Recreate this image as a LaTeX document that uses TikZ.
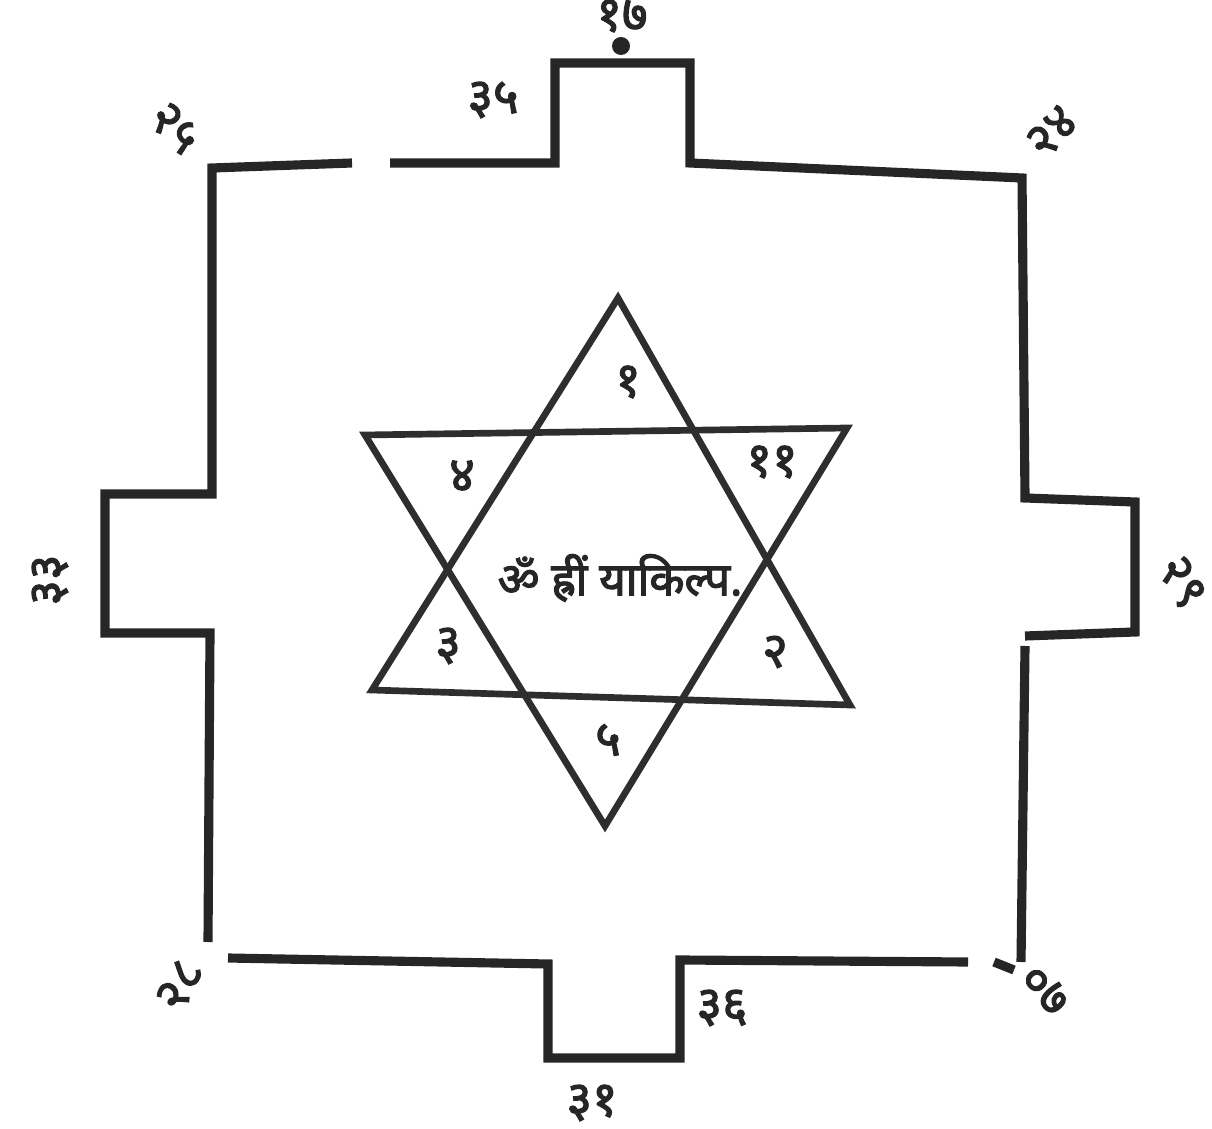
\documentclass[tikz,border=0pt]{standalone}
\usepackage{fontspec}
\newfontfamily\devfont[Script=Devanagari,AutoFakeBold=2.5]{Noto Sans}
\usetikzlibrary{calc}
\tikzset{
  ywall/.style={line width=2.6pt,draw=black!85,line join=miter},
  ystar/.style={line width=1.9pt,draw=black!82},
  ynum/.style={font=\devfont\bfseries\fontsize{14}{14}\selectfont,inner sep=0pt,text=black!85},
  ymantra/.style={font=\devfont\bfseries\fontsize{13}{15}\selectfont,inner sep=2pt,text=black!85}
}

\begin{document}
\begin{tikzpicture}[x=0.1mm,y=-0.1mm]
  \useasboundingbox (0,0) rectangle (1212,1129);
  % outer wall with four gates
  \draw[ywall] (352,163) -- (212,168) -- (212,494) -- (105,494) -- (105,633) -- (210,633) -- (208,942);
  \draw[ywall] (390,163) -- (555,163) -- (555,63) -- (690,63) -- (690,163) -- (1022,178) -- (1025,498) -- (1135,502) -- (1135,632) -- (1025,636);
  \draw[ywall] (1025,646) -- (1021,962);
  \draw[ywall] (228,958) -- (548,964) -- (548,1058) -- (680,1058) -- (680,960) -- (968,962);
  \draw[ywall] (994,962) -- (1014,970);
  \fill[black!85] (621,46) circle (9);
  % star
  \coordinate (ua) at (618,298);
  \coordinate (ul) at (372,690);
  \coordinate (ur) at (850,705);
  \coordinate (dl) at (365,435);
  \coordinate (dr) at (847,428);
  \coordinate (da) at (605,826);
  \draw[ystar] (ua) -- (ul) -- (ur) -- cycle;
  \draw[ystar] (dl) -- (dr) -- (da) -- cycle;
  \node[ymantra] (mantra) at (620,578) {ॐ ह्रीं याकिल्प.};
  \foreach \x/\y/\nm/\txt in {
     628/382/s1/१, 775/652/s2/२, 448/646/s3/३,
     462/476/s4/४, 608/740/s5/५, 772/462/s6/११}{
    \node[ynum] (\nm) at (\x,\y) {\txt};
  }
  % numbers round the wall
  \foreach \x/\y/\nm/\rot/\txt in {
     622/16/n1/0/१७, 493/100/n2/0/३५, 175/128/n3/-45/२५,
     1052/132/n4/45/२४, 50/580/n5/90/३३, 1182/582/n6/-60/२९,
     180/985/n7/60/२८, 1045/990/n8/-45/०७, 592/1103/n9/0/३१,
     722/1008/n10/0/३६}{
    \node[ynum,rotate=\rot] (\nm) at (\x,\y) {\txt};
  }
\end{tikzpicture}
\end{document}
